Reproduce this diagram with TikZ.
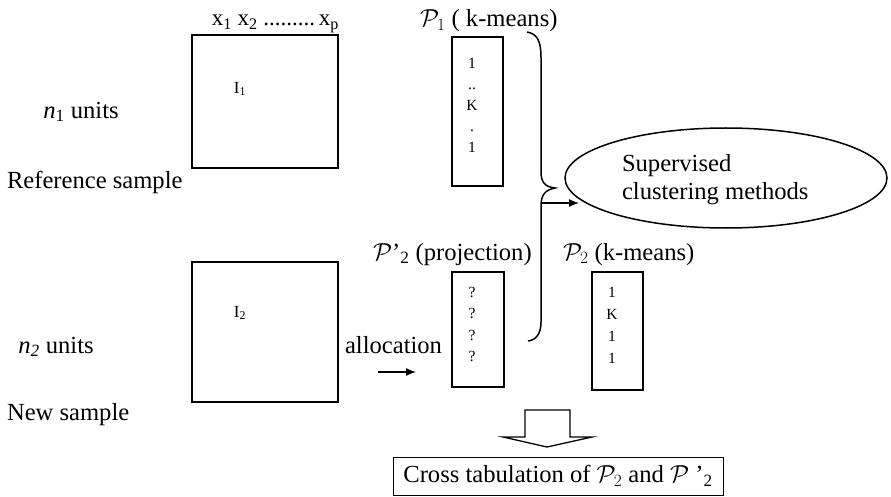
\RequirePackage{fix-cm}
\documentclass[tikz,border=0pt]{standalone}
\usepackage{fontspec}
\setmainfont{Liberation Serif}
\usetikzlibrary{shapes.geometric,arrows.meta}
\begin{document}
\begin{tikzpicture}[x=1pt,y=-1pt,
  every node/.style={inner sep=0pt, outer sep=0pt},
  big/.style={font=\fontsize{24.6}{28}\selectfont},
  small/.style={font=\fontsize{15.5}{21}\selectfont},
  mid/.style={font=\fontsize{17}{20}\selectfont},
  thickbox/.style={draw, line width=1.8pt},
  thinbox/.style={draw, line width=1pt},
  arr/.style={-{Latex[length=10pt,width=8pt]}, line width=1.3pt},
]
\useasboundingbox (0,0) rectangle (891,497);
% matrices
\node[thickbox, minimum width=146pt, minimum height=133pt] (I1box) at (265,101.5) {};
\node[thickbox, minimum width=146pt, minimum height=140pt] (I2box) at (265,332) {};
\node[mid] (I1) at (240,89) {I\textsubscript{1}};
\node[mid] (I2) at (240,313) {I\textsubscript{2}};
\node[font=\fontsize{23}{26}\selectfont, anchor=base east] (vars) at (339,26) {x\textsubscript{1} x\textsubscript{2} .........\,x\textsubscript{p}};
% left labels
\node[big] (n1) at (81,112) {\textit{n}\textsubscript{1} units};
\node[big, anchor=west] (refs) at (7,182) {Reference sample};
\node[big] (n2) at (56,347) {\textit{n}\textsubscript{\textit{2}} units};
\node[big, anchor=west] (news) at (7,415) {New sample};
\node[big, anchor=west] (alloc) at (345,345) {allocation};
\coordinate (a1) at (378,372);
\coordinate (a2) at (416,372);
\draw[arr] (a1) -- (a2);
% partition columns
\node[thickbox, minimum width=51pt, minimum height=149pt] (P1col) at (477.5,111.5) {};
\node[small, anchor=north, align=center] (P1txt) at (472,58) {1\\..\\K\\.\\1};
\node[thickbox, minimum width=52pt, minimum height=115pt] (Pp2col) at (478,329.5) {};
\node[anchor=north, align=center, font=\fontsize{15.5}{21.5}\selectfont] (Pp2txt) at (472,287) {?\\?\\?\\?};
\node[thickbox, minimum width=51pt, minimum height=118pt] (P2col) at (617.5,331) {};
\node[anchor=north, align=center, font=\fontsize{15.5}{22}\selectfont] (P2txt) at (612,287) {1\\K\\1\\1};
% column titles
\node[big, anchor=base west] (P1lab) at (420,27) {$\mathcal{P}_1$ ( k-means)};
\node[big, anchor=base west] (Pp2lab) at (373,260) {$\mathcal{P}$'\textsubscript{2} (projection)};
\node[big, anchor=base west] (P2lab) at (563,260) {$\mathcal{P}_2$ (k-means)};
% brace
\draw[line width=1.5pt] (527,32) .. controls (538,34) and (541,42) .. (541,58)
  -- (541,172) .. controls (541,182) and (545,187) .. (555,188)
  .. controls (545,190) and (541,195) .. (541,206)
  -- (541,322) .. controls (541,334) and (536,340) .. (528,341);
% ellipse
\node[draw, ellipse, line width=1.5pt, minimum width=322pt, minimum height=100pt] (scm) at (726,178) {};
\node[big, anchor=west, align=left] (scmtxt) at (622,180) {Supervised\\clustering methods};
\coordinate (bt) at (541,203);
\coordinate (be) at (579,203);
\draw[arr] (bt) -- (be);
% hollow arrow
\draw[line width=1.3pt, line join=miter] (525,410) -- (525,437) -- (503,437) -- (547,447) -- (592,437) -- (570,437) -- (570,410) -- cycle;
% cross tabulation
\node[thinbox, big, minimum width=330pt, minimum height=38pt] (cross) at (558,476) {Cross tabulation of $\mathcal{P}_2$ and $\mathcal{P}$ '\textsubscript{2}};
\end{tikzpicture}
\end{document}
